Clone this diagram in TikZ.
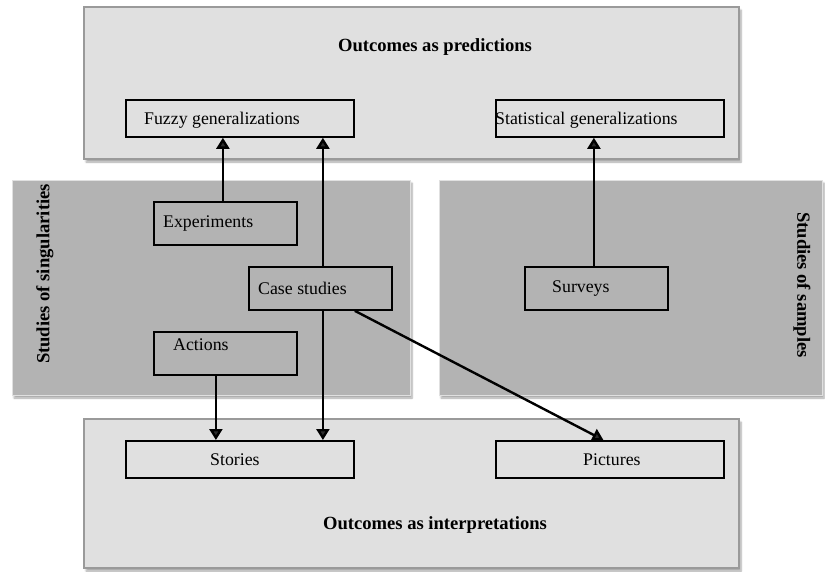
\documentclass[tikz,border=0pt]{standalone}
\usepackage{fontspec}
\setmainfont{Liberation Serif}
\usetikzlibrary{arrows.meta,shadows.blur}
\definecolor{panelLight}{HTML}{E0E0E0}
\definecolor{panelDark}{HTML}{B3B3B3}
\definecolor{panelEdge}{HTML}{9A9A9A}
\begin{document}
\begin{tikzpicture}[x=1pt,y=-1pt,
  txt/.style={font=\fontsize{17.8}{21}\selectfont, inner sep=0pt},
  ttl/.style={font=\fontsize{18.6}{22}\selectfont\bfseries, inner sep=0pt},
  outcome/.style={draw=panelEdge, line width=1.2pt, fill=panelLight,
    blur shadow={shadow xshift=2pt, shadow yshift=-3pt, shadow blur steps=6, shadow opacity=35}},
  study/.style={draw=panelLight, line width=1pt, fill=panelDark,
    blur shadow={shadow xshift=2pt, shadow yshift=-3pt, shadow blur steps=6, shadow opacity=35}},
  wide/.style={draw, line width=1.8pt, minimum width=228pt, minimum height=37pt, anchor=north west, inner sep=0pt, label distance=0pt},
  small/.style={draw, line width=1.8pt, minimum width=143pt, minimum height=43pt, anchor=north west, inner sep=0pt, label distance=0pt},
  arr/.style={line width=2.4pt, -{Triangle[width=13pt,length=11pt]}}]
\useasboundingbox (0,0) rectangle (825,571);

% background panels
\draw[outcome] (84,7) rectangle (739,159);
\draw[outcome] (84,419) rectangle (739,568);
\draw[study] (12,180) rectangle (410,395);
\draw[study] (439,180) rectangle (822,395);

% panel titles
\node[ttl] (tPred) at (435,47) {Outcomes as predictions};
\node[ttl] (tInt) at (435,525) {Outcomes as interpretations};
\node[ttl, rotate=90] (tSing) at (45,274) {Studies of singularities};
\node[ttl, rotate=-90] (tSamp) at (802,285) {Studies of samples};

% boxes
\node[wide, label={[txt, anchor=west, xshift=19pt, yshift=-2pt]west:Fuzzy generalizations}] (fuzzy) at (125,99) {};
\node[wide, label={[txt, anchor=west, xshift=0pt, yshift=-2pt]west:Statistical generalizations}] (stat) at (495,99) {};
\node[small, label={[txt, anchor=west, xshift=10pt]west:Experiments}] (exp) at (153,201) {};
\node[small, label={[txt, anchor=west, xshift=10pt]west:Case studies}] (cs) at (248,266) {};
\node[small, label={[txt, anchor=west, xshift=20pt, yshift=9pt]west:Actions}] (act) at (153,331) {};
\node[small, label={[txt, anchor=west, xshift=28pt]west:Surveys}] (surv) at (524,266) {};
\node[wide, label={[txt, anchor=center, xshift=-5pt]center:Stories}] (stor) at (125,440) {};
\node[wide, label={[txt, anchor=center, xshift=2pt]center:Pictures}] (pict) at (495,440) {};

% connectors
\draw[arr] ([xshift=-2.5pt]exp.north) -- ([xshift=-2.5pt]exp.north |- fuzzy.south);
\draw[arr] ([xshift=2.5pt]cs.north) -- ([xshift=2.5pt]cs.north |- fuzzy.south);
\draw[arr] ([xshift=2.5pt]cs.south) -- ([xshift=2.5pt]cs.south |- stor.north);
\draw[arr] ([xshift=-9.5pt]act.south) -- ([xshift=-9.5pt]act.south |- stor.north);
\draw[arr] ([xshift=-2.5pt]surv.north) -- ([xshift=-2.5pt]surv.north |- stat.south);
\draw[arr] ([xshift=-38pt]cs.south east) -- ([xshift=-6.5pt]pict.north);
\end{tikzpicture}
\end{document}
